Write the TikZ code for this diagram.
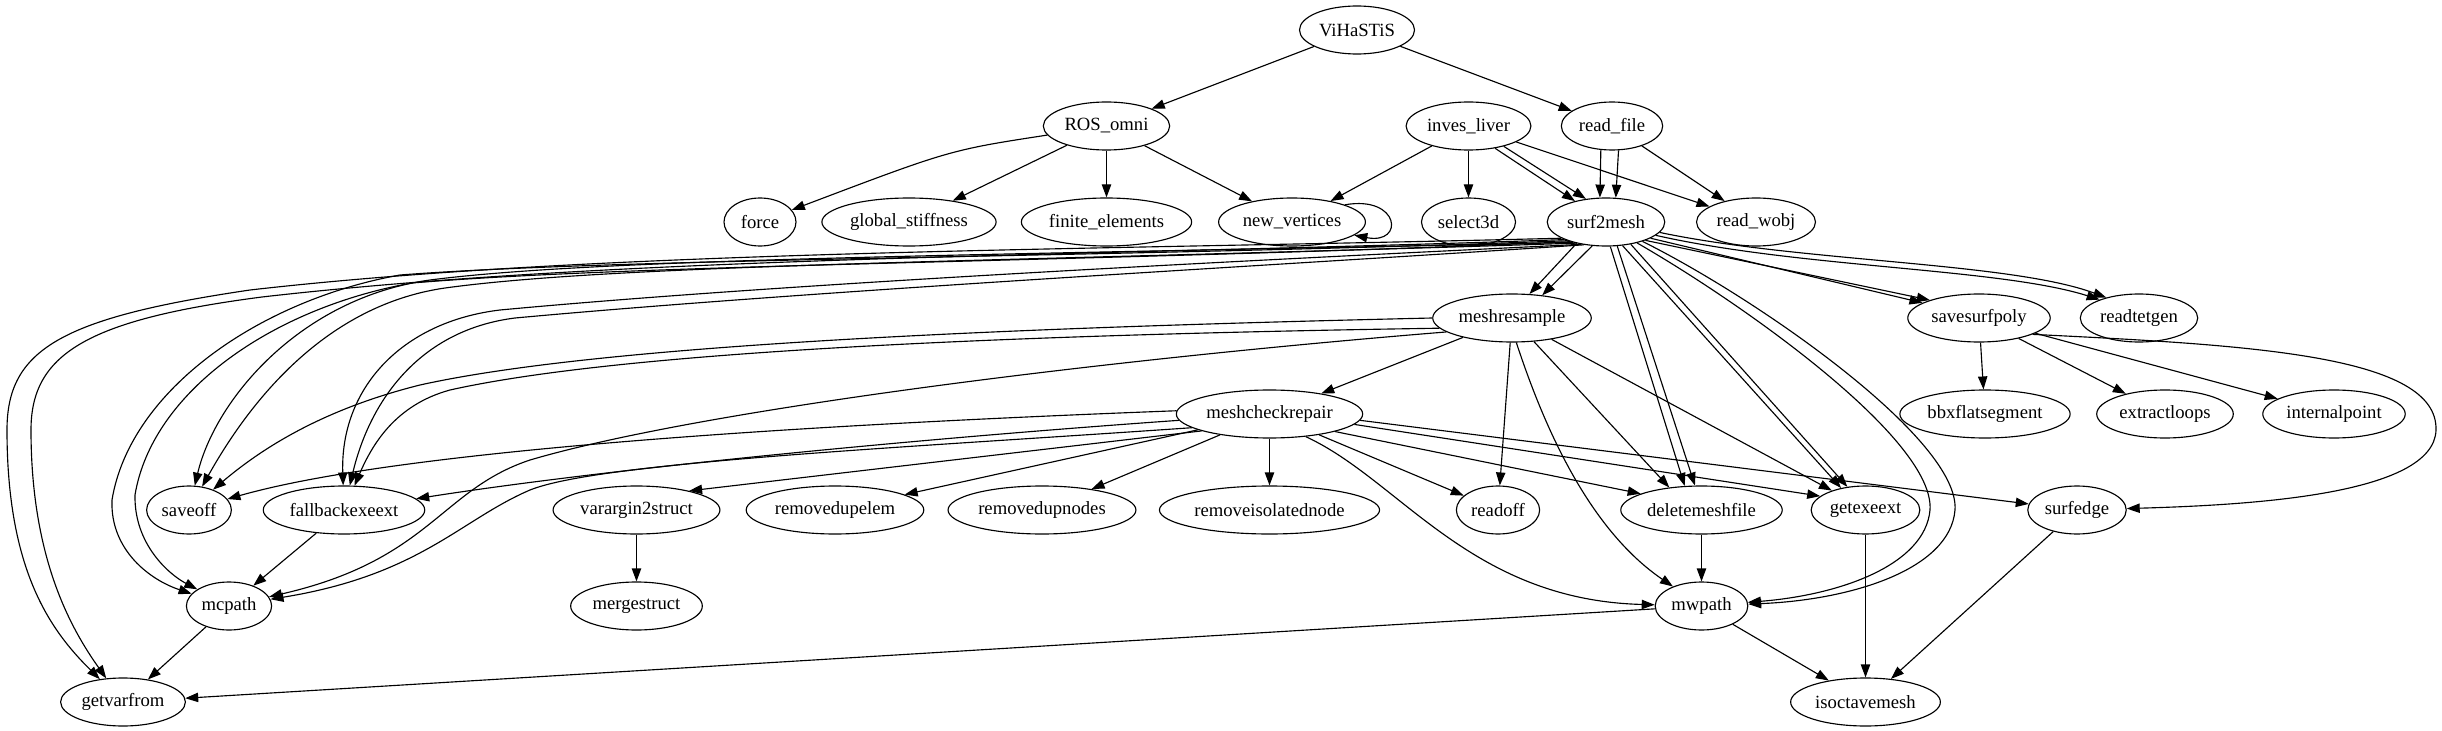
\documentclass[tikz,border=0pt]{standalone}
\usepackage{fontspec}
\setmainfont{Liberation Serif}
\usetikzlibrary{shapes.geometric,arrows.meta}

\begin{document}
\begin{tikzpicture}[
    x=0.75pt, y=-0.75pt,
    >={Triangle[length=9.75pt,width=7pt]},
    func/.style={
      draw,
      ellipse,
      line width=0.85pt,
      minimum width=54pt,
      minimum height=36pt,
      inner xsep=2pt,
      inner ysep=0pt,
      font=\fontsize{14}{16}\selectfont
    },
    call/.style={->, line width=0.85pt}
  ]
  \useasboundingbox (0,0) rectangle (2442,731);

  \node[func] (vihastis) at (1357,30) {ViHaSTiS};
  \node[func] (ros) at (1106.5,126) {ROS\_omni};
  \node[func] (inves) at (1468.5,126) {inves\_liver};
  \node[func] (readfile) at (1612,126) {read\_file};
  \node[func] (force) at (760,222) {force};
  \node[func] (gstiff) at (909,222) {global\_stiffness};
  \node[func] (fem) at (1106.5,222) {finite\_elements};
  \node[func] (newv) at (1292,222) {new\_vertices};
  \node[func] (sel3d) at (1468.5,222) {select3d};
  \node[func] (s2m) at (1606,222) {surf2mesh};
  \node[func] (rwobj) at (1756,222) {read\_wobj};
  \node[func] (mresample) at (1512,318) {meshresample};
  \node[func] (ssp) at (1979,318) {savesurfpoly};
  \node[func] (rtetgen) at (2139,318) {readtetgen};
  \node[func] (mcrepair) at (1269.5,414) {meshcheckrepair};
  \node[func] (bbx) at (1985,414) {bbxflatsegment};
  \node[func] (extloops) at (2165,414) {extractloops};
  \node[func] (intpoint) at (2334,414) {internalpoint};
  \node[func] (saveoff) at (189,510) {saveoff};
  \node[func] (fallback) at (344,510) {fallbackexeext};
  \node[func] (varg) at (636.5,510) {varargin2struct};
  \node[func] (rdupelem) at (835,510) {removedupelem};
  \node[func] (rdupnodes) at (1042,510) {removedupnodes};
  \node[func] (risonode) at (1269.5,510) {removeisolatednode};
  \node[func] (readoff) at (1498,510) {readoff};
  \node[func] (delmesh) at (1701.5,510) {deletemeshfile};
  \node[func] (getexe) at (1865.5,510) {getexeext};
  \node[func] (surfedge) at (2077,510) {surfedge};
  \node[func] (mcpath) at (229,606) {mcpath};
  \node[func] (mergestruct) at (636.5,606) {mergestruct};
  \node[func] (mwpath) at (1701.5,606) {mwpath};
  \node[func] (getvar) at (123,702) {getvarfrom};
  \node[func] (isoct) at (1865.5,702) {isoctavemesh};

  % top levels
  \draw[call] (vihastis) -- (ros);
  \draw[call] (vihastis) -- (readfile);
  \draw[call] (ros) .. controls (950,150) .. (force);
  \draw[call] (ros) -- (gstiff);
  \draw[call] (ros) -- (fem);
  \draw[call] (ros) -- (newv);
  \draw[call] (inves) -- (newv);
  \draw[call] (inves) -- (sel3d);
  \draw[call] (inves.-40) -- (s2m.146);
  \draw[call] (inves.-30) -- (s2m.131);
  \draw[call] (inves) -- (rwobj);
  \draw[call] (readfile.-115) -- (s2m.104);
  \draw[call] (readfile.-75) -- (s2m.68);
  \draw[call] (readfile) -- (rwobj);
  \draw[call] (newv.18) .. controls (1400,195) and (1405,245) .. (newv.-12);

  % surf2mesh
  \draw[call] (s2m.216) -- (mresample.54);
  \draw[call] (s2m.240) -- (mresample.37);
  \draw[call] (s2m.-20) -- (ssp.165);
  \draw[call] (s2m.-25) -- (ssp.160);
  \draw[call] (s2m.-15) .. controls (1800,268) and (2000,268) .. (rtetgen.155);
  \draw[call] (s2m.-11) .. controls (1800,262) and (2010,262) .. (rtetgen.148);
  \draw[call] (s2m.-80) -- (delmesh.125);
  \draw[call] (s2m.-65) -- (delmesh.105);
  \draw[call] (s2m.-55) -- (getexe.138);
  \draw[call] (s2m.-42) -- (getexe.128);
  \draw[call] (s2m.-34) .. controls (1745,305) and (1935,440) .. (1930,510)
    .. controls (1925,565) and (1840,595) .. (mwpath);
  \draw[call] (s2m.-28) .. controls (1760,300) and (1960,440) .. (1955,510)
    .. controls (1950,570) and (1850,600) .. (mwpath);
  \draw[call] (s2m.200) .. controls (1100,250) and (600,250) .. (250,290)
    .. controls (60,318) and (7,350) .. (7,430)
    .. controls (7,570) and (50,630) .. (getvar);
  \draw[call] (s2m.203) .. controls (1100,256) and (620,256) .. (262,297)
    .. controls (85,320) and (31,355) .. (31,430)
    .. controls (31,560) and (72,630) .. (getvar);
  \draw[call] (s2m.206) .. controls (1100,258) and (620,258) .. (400,275)
    .. controls (260,300) and (130,390) .. (112,500)
    .. controls (110,550) and (150,580) .. (mcpath);
  \draw[call] (s2m.209) .. controls (1100,262) and (640,264) .. (412,283)
    .. controls (272,308) and (152,392) .. (135,495)
    .. controls (134,545) and (170,575) .. (mcpath);
  \draw[call] (s2m.212) .. controls (1000,255) and (600,258) .. (430,280)
    .. controls (300,298) and (215,400) .. (saveoff);
  \draw[call] (s2m.215) .. controls (1000,262) and (620,264) .. (445,288)
    .. controls (320,306) and (245,410) .. (saveoff);
  \draw[call] (s2m.222) .. controls (1300,258) and (800,282) .. (500,310)
    .. controls (400,322) and (340,390) .. (fallback);
  \draw[call] (s2m.226) .. controls (1300,264) and (820,290) .. (515,318)
    .. controls (420,330) and (370,400) .. (fallback);

  % meshresample
  \draw[call] (mresample) -- (mcrepair);
  \draw[call] (mresample.west) .. controls (1000,328) and (600,345) .. (420,385)
    .. controls (320,410) and (260,450) .. (saveoff);
  \draw[call] (mresample.188) .. controls (1000,335) and (620,352) .. (450,390)
    .. controls (395,405) and (372,445) .. (fallback);
  \draw[call] (mresample.192) .. controls (1100,360) and (700,410) .. (530,460)
    .. controls (440,490) and (430,560) .. (mcpath);
  \draw[call] (mresample) -- (readoff);
  \draw[call] (mresample) -- (delmesh.145);
  \draw[call] (mresample) -- (getexe.150);
  \draw[call] (mresample.-80) .. controls (1545,430) and (1590,530) .. (mwpath);

  % meshcheckrepair
  \draw[call] (mcrepair.178) .. controls (800,425) and (400,450) .. (saveoff);
  \draw[call] (mcrepair.184) .. controls (900,440) and (600,470) .. (fallback);
  \draw[call] (mcrepair.190) .. controls (900,448) and (600,462) .. (530,490)
    .. controls (460,520) and (420,575) .. (mcpath);
  \draw[call] (mcrepair.194) -- (varg.20);
  \draw[call] (mcrepair) -- (rdupelem);
  \draw[call] (mcrepair) -- (rdupnodes);
  \draw[call] (mcrepair) -- (risonode);
  \draw[call] (mcrepair) -- (readoff);
  \draw[call] (mcrepair.-15) -- (delmesh.165);
  \draw[call] (mcrepair.-7) -- (getexe.163);
  \draw[call] (mcrepair.-4) -- (surfedge);
  \draw[call] (mcrepair.-32) .. controls (1400,480) and (1470,600) .. (mwpath);

  % savesurfpoly
  \draw[call] (ssp) -- (bbx);
  \draw[call] (ssp) -- (extloops);
  \draw[call] (ssp) -- (intpoint);
  \draw[call] (ssp.-17) .. controls (2250,345) and (2438,355) .. (2436,430)
    .. controls (2434,495) and (2250,505) .. (surfedge);

  % lower rows
  \draw[call] (varg) -- (mergestruct);
  \draw[call] (fallback) -- (mcpath);
  \draw[call] (mcpath) -- (getvar);
  \draw[call] (mwpath) -- (getvar);
  \draw[call] (delmesh) -- (mwpath);
  \draw[call] (getexe) -- (isoct);
  \draw[call] (mwpath) -- (isoct);
  \draw[call] (surfedge) -- (isoct);
\end{tikzpicture}
\end{document}
